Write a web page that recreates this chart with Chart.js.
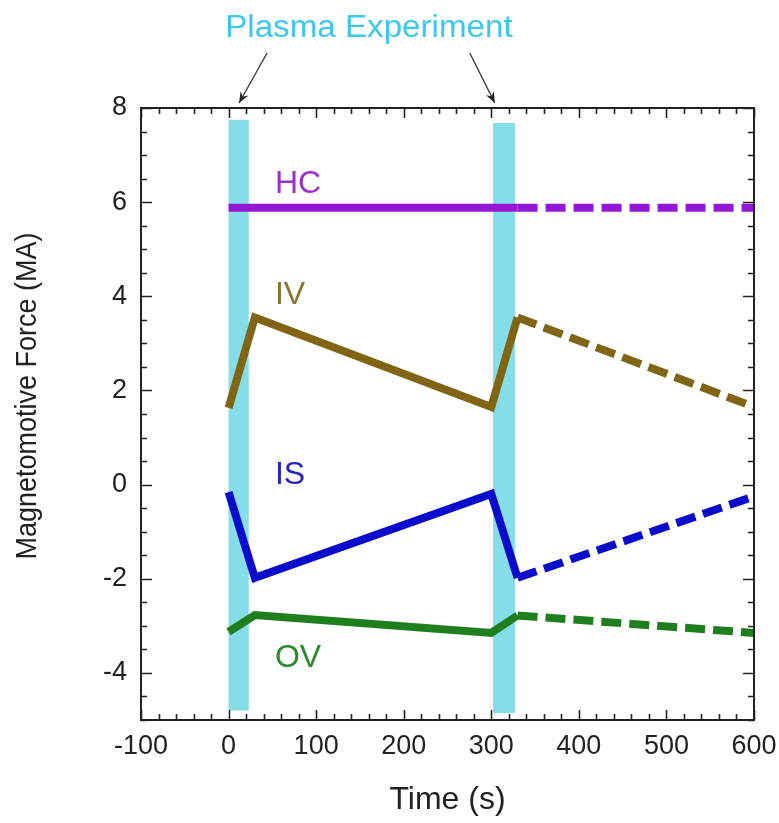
<!DOCTYPE html>
<html>
<head>
<meta charset="utf-8">
<script src="https://cdn.jsdelivr.net/npm/chart.js@4/dist/chart.umd.min.js"></script>
<style>
  html, body { margin: 0; padding: 0; background: #ffffff; }
  #wrap { width: 779px; height: 823px; }
</style>
</head>
<body>
<div id="wrap"><canvas id="c" width="779" height="823"></canvas></div>
<script>
// ---- data ----
const times = [0, 30, 300, 330, 600];
const hcValues = [5.88, 5.88, 5.88, 5.88, 5.88];
const ivValues = [1.63, 3.55, 1.65, 3.55, 1.65];
const isValues = [-0.16, -1.98, -0.2, -1.98, -0.25];
const ovValues = [-3.13, -2.77, -3.15, -2.78, -3.15];
const solidUntil = 330;             // later segments are dashed (projection)

const seriesNames = ['HC', 'IV', 'IS', 'OV'];
const labelX = [53, 53, 53, 53];            // label anchor (time)
const labelY = [6.38, 4.03, 0.2, -3.68];    // label anchor (MA)

const bandStart = [0, 302];
const bandEnd = [23, 327];
const bandTop = [7.75, 7.68];
const bandBottom = [-4.8, -4.85];
const arrowTargets = [12, 304];
const annotationText = 'Plasma Experiment';

const xTickValues = [-100, 0, 100, 200, 300, 400, 500, 600];
const yTickValues = [-4, -2, 0, 2, 4, 6, 8];
const xMin = -100, xMax = 600, yMin = -5, yMax = 8;
const xMinorStep = 20, yMinorStep = 0.5;
const xTitle = 'Time (s)';
const yTitle = 'Magnetomotive Force (MA)';

// ---- styling ----
const lineColors = ['#9616D6', '#806614', '#0B0BCC', '#1F7F1F'];
const labelColors = ['#9B30CF', '#8A7530', '#2424BE', '#2B8A2B'];
const bandColor = '#84DDE9';
const FONT = '"Liberation Sans", Arial, Helvetica, sans-serif';

function pts(vals) { return times.map((t, i) => ({ x: t, y: vals[i] })); }
const allValues = [hcValues, ivValues, isValues, ovValues];

const datasets = allValues.map((vals, i) => ({
  label: seriesNames[i],
  data: pts(vals),
  borderColor: lineColors[i],
  backgroundColor: lineColors[i],
  borderWidth: 8,
  pointRadius: 0,
  fill: false,
  tension: 0,
  borderCapStyle: 'butt',
  borderJoinStyle: 'miter',
  segment: {
    borderDash: ctx => (ctx.p0.parsed.x >= solidUntil ? [20, 8] : undefined)
  }
}));

const decor = {
  id: 'decor',
  beforeDatasetsDraw(chart) {
    const { ctx, scales: { x, y } } = chart;
    ctx.save();
    ctx.fillStyle = bandColor;
    for (let i = 0; i < bandStart.length; i++) {
      const x0 = x.getPixelForValue(bandStart[i]);
      const x1 = x.getPixelForValue(bandEnd[i]);
      const y0 = y.getPixelForValue(bandTop[i]);
      const y1 = y.getPixelForValue(bandBottom[i]);
      ctx.fillRect(x0, y0, x1 - x0, y1 - y0);
    }
    ctx.restore();
  },
  afterDraw(chart) {
    const { ctx, chartArea: a, scales: { x, y } } = chart;
    ctx.save();
    // ticks (inward, all four sides)
    ctx.strokeStyle = '#222222';
    ctx.lineWidth = 1.6;
    ctx.beginPath();
    for (let v = xMin; v <= xMax + 1e-9; v += xMinorStep) {
      const px = Math.round(x.getPixelForValue(v)) + 0.5;
      const major = Math.abs(v % 100) < 1e-9;
      const len = major ? 10 : 6;
      ctx.moveTo(px, a.bottom); ctx.lineTo(px, a.bottom - len);
      ctx.moveTo(px, a.top); ctx.lineTo(px, a.top + len);
    }
    for (let v = yMin; v <= yMax + 1e-9; v += yMinorStep) {
      const py = Math.round(y.getPixelForValue(v)) + 0.5;
      const major = Math.abs(v % 2) < 1e-9;
      const len = major ? 11 : 6;
      ctx.moveTo(a.left, py); ctx.lineTo(a.left + len, py);
      ctx.moveTo(a.right, py); ctx.lineTo(a.right - len, py);
    }
    ctx.stroke();
    // frame
    ctx.lineWidth = 2;
    ctx.strokeRect(a.left, a.top, a.right - a.left, a.bottom - a.top);

    // y axis title (drawn manually to match its offset)
    ctx.save();
    ctx.translate(28, (a.top + a.bottom) / 2 - 18);
    ctx.rotate(-Math.PI / 2);
    ctx.fillStyle = '#222';
    ctx.font = '27px ' + FONT;
    ctx.textAlign = 'center';
    ctx.textBaseline = 'middle';
    ctx.scale(1, 1.12);
    ctx.fillText(yTitle, 0, 0);
    ctx.restore();

    // series labels
    ctx.font = '32px ' + FONT;
    ctx.textAlign = 'left';
    ctx.textBaseline = 'middle';
    for (let i = 0; i < seriesNames.length; i++) {
      ctx.fillStyle = labelColors[i];
      ctx.fillText(seriesNames[i], x.getPixelForValue(labelX[i]), y.getPixelForValue(labelY[i]));
    }

    // annotation text
    const cx = (x.getPixelForValue(arrowTargets[0]) + x.getPixelForValue(arrowTargets[1])) / 2;
    ctx.fillStyle = '#3CC8EE';
    ctx.font = '31px ' + FONT;
    ctx.textAlign = 'center';
    ctx.save();
    ctx.translate(cx + 2, a.top - 80);
    ctx.scale(1.07, 1);
    ctx.fillText(annotationText, 0, 0);
    ctx.restore();

    // arrows
    ctx.strokeStyle = '#333333';
    ctx.fillStyle = '#222222';
    ctx.lineWidth = 1.3;
    arrowTargets.forEach((t, i) => {
      const tx = x.getPixelForValue(t);
      const ty = a.top - 5;
      const sx = tx + (i === 0 ? 28 : -25);
      const sy = a.top - 55;
      ctx.beginPath();
      ctx.moveTo(sx, sy); ctx.lineTo(tx, ty); ctx.stroke();
      const ang = Math.atan2(ty - sy, tx - sx);
      const L = 12, W = 0.38;
      ctx.beginPath();
      ctx.moveTo(tx, ty);
      ctx.lineTo(tx - L * Math.cos(ang - W), ty - L * Math.sin(ang - W));
      ctx.lineTo(tx - L * 0.6 * Math.cos(ang), ty - L * 0.6 * Math.sin(ang));
      ctx.lineTo(tx - L * Math.cos(ang + W), ty - L * Math.sin(ang + W));
      ctx.closePath();
      ctx.fill();
    });
    ctx.restore();
  }
};

new Chart(document.getElementById('c'), {
  type: 'line',
  data: { datasets },
  plugins: [decor],
  options: {
    responsive: false,
    animation: false,
    devicePixelRatio: 1,
    layout: { padding: { top: 108, right: 25, left: 0, bottom: 0 } },
    plugins: { legend: { display: false }, tooltip: { enabled: false } },
    scales: {
      x: {
        type: 'linear',
        min: xMin, max: xMax,
        afterBuildTicks: s => { s.ticks = xTickValues.map(v => ({ value: v })); },
        afterFit: s => { s.height = 103; s.paddingRight = 25; s.paddingLeft = 0; },
        grid: { display: false, drawTicks: false },
        border: { display: false },
        ticks: { color: '#222', font: { size: 27, family: FONT }, padding: 10, maxRotation: 0 },
        title: { display: true, text: xTitle, color: '#222', font: { size: 32, family: FONT }, padding: { top: 0, bottom: 4 } }
      },
      y: {
        type: 'linear',
        min: yMin, max: yMax,
        afterBuildTicks: s => { s.ticks = yTickValues.map(v => ({ value: v })); },
        afterFit: s => { s.width = 141; s.paddingTop = 0; s.paddingBottom = 0; },
        grid: { display: false, drawTicks: false },
        border: { display: false },
        ticks: { color: '#222', font: { size: 27, family: FONT }, padding: 14 },
        title: { display: false }
      }
    }
  }
});
</script>
</body>
</html>
